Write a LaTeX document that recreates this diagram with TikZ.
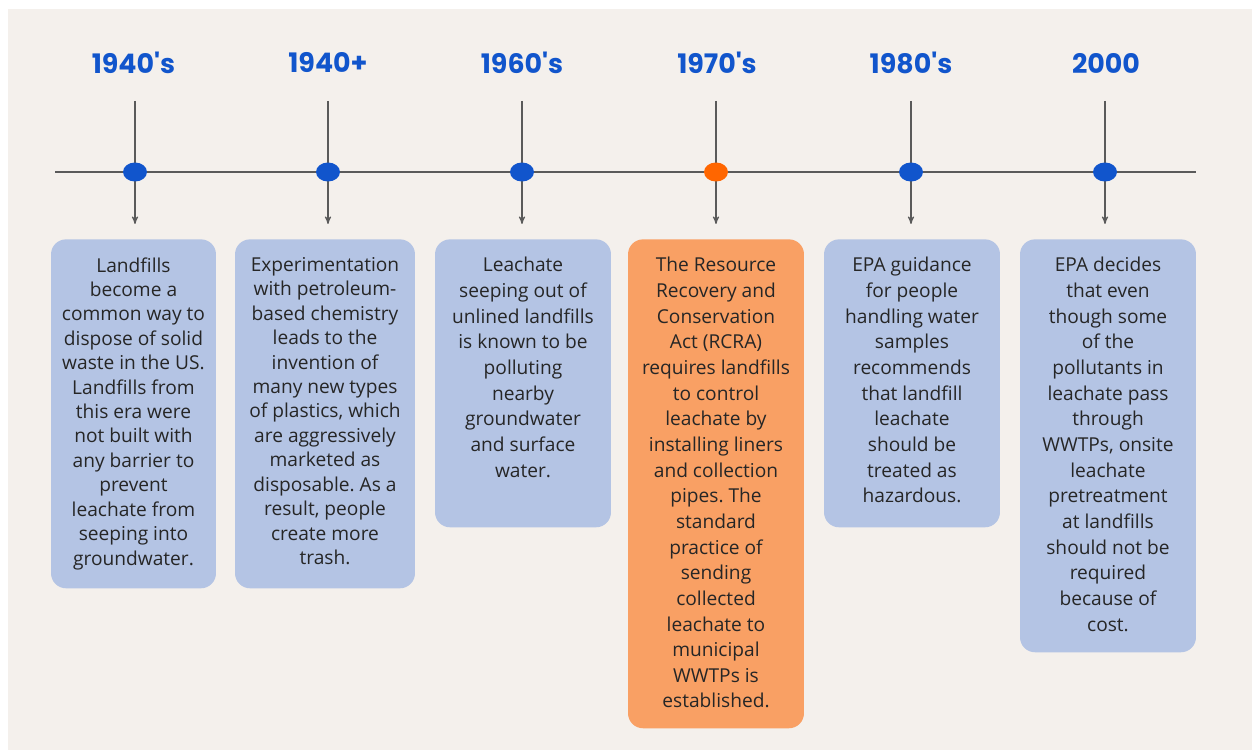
\documentclass[tikz,border=0pt]{standalone}
\usepackage{fontspec}
\setmainfont{Open Sans}
\newfontfamily\yearfont{Poppins}[Ligatures=TeXOff]
\usetikzlibrary{arrows,shapes.geometric,calc}
\frenchspacing

\definecolor{paper}{HTML}{F4F0EC}
\definecolor{yearblue}{HTML}{1155CC}
\definecolor{rcraorange}{HTML}{FF6600}
\definecolor{cardblue}{HTML}{B4C4E4}
\definecolor{cardorange}{HTML}{F9A064}
\definecolor{linegray}{HTML}{5A5A5A}

\begin{document}
\begin{tikzpicture}[x=0.02cm,y=-0.02cm,
    year/.style={font=\yearfont\bfseries\fontsize{15.3}{18}\selectfont,text=yearblue},
    dot/.style={ellipse,fill=yearblue,inner sep=0pt,minimum width=0.48cm,minimum height=0.38cm},
    card/.style={rounded corners=0.3cm,fill=cardblue,anchor=north,inner sep=0pt},
    note/.style={anchor=north,align=center,inner sep=0pt,text=black!85,
        font=\fontsize{10.9}{14.6}\selectfont},
    tight/.style={font=\fontsize{10.9}{13.9}\selectfont},
    tick/.style={->,>=stealth',draw=linegray,line width=0.6pt}]

  % page
  \fill[white] (0,0) rectangle (1252,750);
  \fill[paper] (8,9) rectangle (1252,750);
  \useasboundingbox (0,0) rectangle (1252,750);

  % timeline
  \foreach \i/\x in {1/135,2/328,3/522,4/716,5/911,6/1105}
    \coordinate (t\i) at (\x,172);
  \draw[linegray,line width=0.8pt] ($(t1)+(-80,0)$) -- ($(t6)+(91,0)$);
  \foreach \i in {1,...,6}
    \draw[tick] ($(t\i)+(0,-71)$) -- ($(t\i)+(0,52)$);

  \node[dot] (d1) at (t1) {};
  \node[dot] (d2) at (t2) {};
  \node[dot] (d3) at (t3) {};
  \node[dot,fill=rcraorange] (d4) at (t4) {};
  \node[dot] (d5) at (t5) {};
  \node[dot] (d6) at (t6) {};

  \node[year] (y1) at (133.5,63) {1940's};
  \node[year] (y2) at (328,63) {1940+};
  \node[year] (y3) at (522,63) {1960's};
  \node[year] (y4) at (717,63) {1970's};
  \node[year] (y5) at (911,63) {1980's};
  \node[year] (y6) at (1106,63) {2000};

  % cards
  \node[card,minimum width=3.3cm,minimum height=6.98cm] (c1) at (133.5,239) {};
  \node[card,minimum width=3.6cm,minimum height=6.98cm] (c2) at (325,239) {};
  \node[card,minimum width=3.52cm,minimum height=5.76cm] (c3) at (523,239) {};
  \node[card,fill=cardorange,minimum width=3.52cm,minimum height=9.78cm] (c4) at (716,239) {};
  \node[card,minimum width=3.52cm,minimum height=5.76cm] (c5) at (912,239) {};
  \node[card,minimum width=3.52cm,minimum height=8.26cm] (c6) at (1108,239) {};

  \node[note,tight] (n1) at ($(c1.north)+(0,18)$) {Landfills\\ become a\\ common way to\\
    dispose of solid\\ waste in the US.\\ Landfills from\\ this era were\\
    not built with\\ any barrier to\\ prevent\\ leachate from\\ seeping into\\ groundwater.};
  \node[note,tight] (n2) at ($(c2.north)+(0,18)$) {Experimentation\\ with petroleum-\\
    based chemistry\\ leads to the\\ invention of\\ many new types\\
    of plastics, which\\ are aggressively\\ marketed as\\ disposable. As a\\
    result, people\\ create more\\ trash.};
  \node[note] (n3) at ($(c3.north)+(0,18)$) {Leachate\\ seeping out of\\
    unlined landfills\\ is known to be\\ polluting\\ nearby\\ groundwater\\
    and surface\\ water.};
  \node[note] (n4) at ($(c4.north)+(0,18)$) {The Resource\\ Recovery and\\
    Conservation\\ Act (RCRA)\\ requires landfills\\ to control\\ leachate by\\
    installing liners\\ and collection\\ pipes. The\\ standard\\ practice of\\
    sending\\ collected\\ leachate to\\ municipal\\ WWTPs is\\ established.};
  \node[note] (n5) at ($(c5.north)+(0,18)$) {EPA guidance\\ for people\\
    handling water\\ samples\\ recommends\\ that landfill\\ leachate\\
    should be\\ treated as\\ hazardous.};
  \node[note] (n6) at ($(c6.north)+(0,18)$) {EPA decides\\ that even\\
    though some\\ of the\\ pollutants in\\ leachate pass\\ through\\
    WWTPs, onsite\\ leachate\\ pretreatment\\ at landfills\\ should not be\\
    required\\ because of\\ cost.};

\end{tikzpicture}
\end{document}
